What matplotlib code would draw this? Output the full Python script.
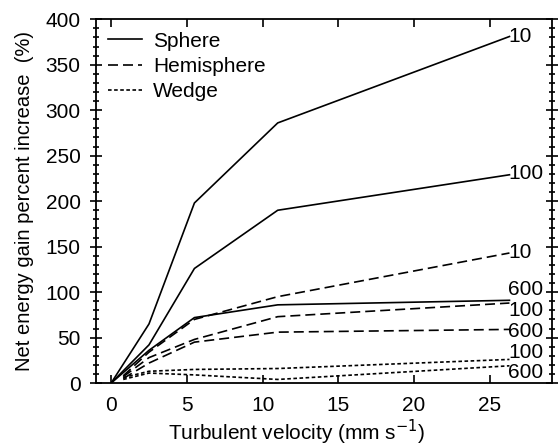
import matplotlib
matplotlib.use("Agg")
import matplotlib.pyplot as plt
from matplotlib.ticker import MultipleLocator

plt.rcParams['font.family'] = ['Liberation Sans', 'DejaVu Sans']
plt.rcParams['lines.scale_dashes'] = False

# turbulent velocity (mm s-1)
vel_sphere = [0, 2.5, 5.5, 11, 26.3]
vel_other = [0.8, 2.5, 5.5, 11, 26.3]

# net energy gain percent increase, one curve per size
sphere_10 = [0, 65, 198, 286, 381]
sphere_100 = [0, 42, 126, 190, 229]
sphere_600 = [0, 36, 72, 86, 91]
hemi_10 = [8, 34, 70, 95, 143]
hemi_100 = [7, 28, 48, 73, 88]
hemi_600 = [5, 22, 45, 56, 59]
wedge_100 = [6, 13, 15, 16, 26]
wedge_600 = [4, 11, 9, 4, 19]

end_labels = ["10", "100", "600", "10", "100", "600", "100", "600"]
label_y = [381, 230, 103, 143, 80, 57, 34, 12]

fig = plt.figure(figsize=(5.58, 4.47), dpi=100)
ax = fig.add_axes([0.172, 0.143, 0.817, 0.814])

solid = dict(color='black', lw=1.2, ls='-')
dashed = dict(color='black', lw=1.2, dashes=(7.2, 3.6))
dotted = dict(color='black', lw=1.2, dashes=(2.6, 1.8))

ax.plot(vel_sphere, sphere_10, label='Sphere', **solid)
ax.plot(vel_sphere, sphere_100, **solid)
ax.plot(vel_sphere, sphere_600, **solid)
ax.plot(vel_other, hemi_10, label='Hemisphere', **dashed)
ax.plot(vel_other, hemi_100, **dashed)
ax.plot(vel_other, hemi_600, **dashed)
ax.plot(vel_other, wedge_100, label='Wedge', **dotted)
ax.plot(vel_other, wedge_600, **dotted)

for txt, y in zip(end_labels, label_y):
    ax.text(26.2, y, txt, fontsize=15, va='center', ha='left')

ax.set_xlim(-1, 29.1)
ax.set_ylim(0, 400)
ax.xaxis.set_major_locator(MultipleLocator(5))
ax.yaxis.set_major_locator(MultipleLocator(50))
ax.yaxis.set_minor_locator(MultipleLocator(10))
ax.tick_params(axis='x', which='major', direction='in', top=True, length=6, width=1.2,
               labelsize=15, pad=9)
ax.tick_params(axis='y', which='major', direction='inout', right=True, length=8, width=1.2,
               labelsize=15, pad=7)
ax.tick_params(axis='y', which='minor', direction='inout', right=True, length=4, width=1.2)
for s in ax.spines.values():
    s.set_linewidth(1.3)

ax.set_xlabel('Turbulent velocity (mm s$^{-1}$)', fontsize=15)
ax.xaxis.set_label_coords(0.44, -0.095)
ax.set_ylabel('Net energy gain percent increase  (%)', fontsize=14.5)
ax.yaxis.set_label_coords(-0.135, 0.5)

ax.legend(loc='upper left', frameon=False, fontsize=15, handlelength=1.6,
          handletextpad=0.55, labelspacing=0.3, borderaxespad=0.35,
          borderpad=0.25)

fig.savefig('out.png', dpi=100)
